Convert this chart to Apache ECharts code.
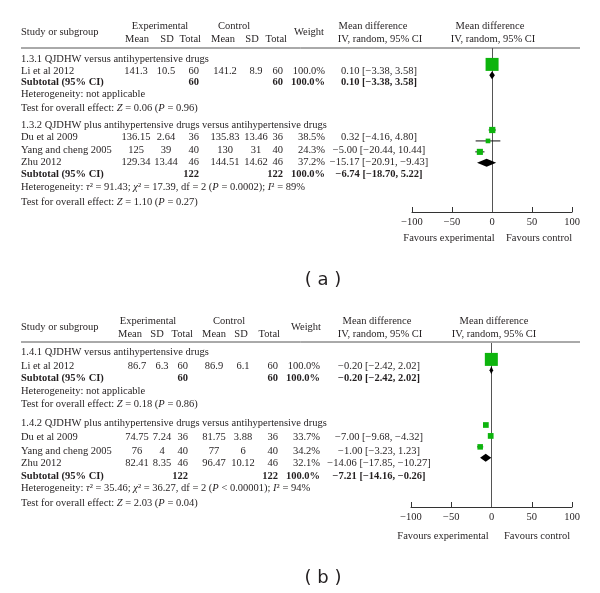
<!DOCTYPE html>
<html><head><meta charset="utf-8">
<script src="https://cdn.jsdelivr.net/npm/echarts@6/dist/echarts.min.js"></script>
<style>html,body{margin:0;padding:0;background:#fff}#c{width:600px;height:593px}</style>
</head><body><div id="c"></div>
<script>
// ---------- Panel (a) data ----------
const groupsA = ["1.3.1 QJDHW versus antihypertensive drugs", "1.3.2 QJDHW plus antihypertensive drugs versus antihypertensive drugs"];
const studiesA = ["Li et al 2012", "Du et al 2009", "Yang and cheng 2005", "Zhu 2012"];
const studyGroupA = [0, 1, 1, 1];
const expMeanA = ["141.3", "136.15", "125", "129.34"];
const expSdA = ["10.5", "2.64", "39", "13.44"];
const expTotalA = [60, 36, 40, 46];
const ctlMeanA = ["141.2", "135.83", "130", "144.51"];
const ctlSdA = ["8.9", "13.46", "31", "14.62"];
const ctlTotalA = [60, 36, 40, 46];
const weightA = [100.0, 38.5, 24.3, 37.2];
const mdA = [0.10, 0.32, -5.00, -15.17];
const loA = [-3.38, -4.16, -20.44, -20.91];
const hiA = [3.58, 4.80, 10.44, -9.43];
const subExpTotalA = [60, 122];
const subCtlTotalA = [60, 122];
const subMdA = [0.10, -6.74];
const subLoA = [-3.38, -18.70];
const subHiA = [3.58, 5.22];
const hetTau2A = [null, "91.43"];
const hetChi2A = [null, "17.39"];
const hetDfA = [null, "2"];
const hetPA = [null, "= 0.0002"];
const hetI2A = [null, "89"];
const zA = ["0.06", "1.10"];
const zPA = ["0.96", "0.27"];

// ---------- Panel (b) data ----------
const groupsB = ["1.4.1 QJDHW versus antihypertensive drugs", "1.4.2 QJDHW plus antihypertensive drugs versus antihypertensive drugs"];
const studiesB = ["Li et al 2012", "Du et al 2009", "Yang and cheng 2005", "Zhu 2012"];
const studyGroupB = [0, 1, 1, 1];
const expMeanB = ["86.7", "74.75", "76", "82.41"];
const expSdB = ["6.3", "7.24", "4", "8.35"];
const expTotalB = [60, 36, 40, 46];
const ctlMeanB = ["86.9", "81.75", "77", "96.47"];
const ctlSdB = ["6.1", "3.88", "6", "10.12"];
const ctlTotalB = [60, 36, 40, 46];
const weightB = [100.0, 33.7, 34.2, 32.1];
const mdB = [-0.20, -7.00, -1.00, -14.06];
const loB = [-2.42, -9.68, -3.23, -17.85];
const hiB = [2.02, -4.32, 1.23, -10.27];
const subExpTotalB = [60, 122];
const subCtlTotalB = [60, 122];
const subMdB = [-0.20, -7.21];
const subLoB = [-2.42, -14.16];
const subHiB = [2.02, -0.26];
const hetTau2B = [null, "35.46"];
const hetChi2B = [null, "36.27"];
const hetDfB = [null, "2"];
const hetPB = [null, "< 0.00001"];
const hetI2B = [null, "94"];
const zB = ["0.18", "2.03"];
const zPB = ["0.86", "0.04"];

// axis ticks
const xTicks = [-100, -50, 0, 50, 100];
const favourLabels = ["Favours experimental", "Favours control"];

// ---------- layout ----------
const FONT = "'Liberation Serif', 'Times New Roman', serif";
const FS = 10.5;
const INK = '#231f20';
const GREEN = '#0db40d';

const layoutA = {
  rows: [59, 71, 82, 94, 108, null, 125, 137, 150, 162, 174, 187, 202],
  h1: 26, h2: 32, h3: 39, rule: 48,
  col: {study: 21, eMean: 136, eSD: 166, eTot: 199, cMean: 225, cSD: 256, cTot: 283, wt: 325, md: 379},
  hcol: {exp: 160, ctl: 234, wt: 309, eMean: 137, eSD: 167, eTot: 201, cMean: 223, cSD: 252, cTot: 287, md1: 373, md2: 380, pl1: 490, pl2: 493},
  grid: {left: 412, width: 160, top: 48, height: 164},
  fav: 238, favX: [449, 539], title: {x: 323, y: 280, t: '( a )'}
};
const layoutB = {
  rows: [352, 366, 378, 391, 404, null, 423, 437, 451, 463, 476, 488, 503],
  h1: 321, h2: 327, h3: 334, rule: 342,
  col: {study: 21, eMean: 137, eSD: 162, eTot: 188, cMean: 214, cSD: 243, cTot: 278, wt: 320, md: 379},
  hcol: {exp: 148, ctl: 229, wt: 306, eMean: 130, eSD: 157, eTot: 193, cMean: 214, cSD: 241, cTot: 280, md1: 377, md2: 380, pl1: 494, pl2: 494},
  grid: {left: 411, width: 161, top: 343, height: 164},
  fav: 536, favX: [443, 537], title: {x: 323, y: 578, t: '( b )'}
};

const panelA = {groups: groupsA, studies: studiesA, sg: studyGroupA, eM: expMeanA, eS: expSdA, eT: expTotalA,
  cM: ctlMeanA, cS: ctlSdA, cT: ctlTotalA, w: weightA, md: mdA, lo: loA, hi: hiA,
  sET: subExpTotalA, sCT: subCtlTotalA, sMd: subMdA, sLo: subLoA, sHi: subHiA,
  tau: hetTau2A, chi: hetChi2A, df: hetDfA, hp: hetPA, i2: hetI2A, z: zA, zp: zPA};
const panelB = {groups: groupsB, studies: studiesB, sg: studyGroupB, eM: expMeanB, eS: expSdB, eT: expTotalB,
  cM: ctlMeanB, cS: ctlSdB, cT: ctlTotalB, w: weightB, md: mdB, lo: loB, hi: hiB,
  sET: subExpTotalB, sCT: subCtlTotalB, sMd: subMdB, sLo: subLoB, sHi: subHiB,
  tau: hetTau2B, chi: hetChi2B, df: hetDfB, hp: hetPB, i2: hetI2B, z: zB, zp: zPB};

const neg = s => String(s).replace(/-/g, '\u2212');
const f2 = v => neg(v.toFixed(2));
const ci = (m, l, h) => `${f2(m)} [${f2(l)}, ${f2(h)}]`;

const rich = {
  i: {fontFamily: FONT, fontSize: FS, fontStyle: 'italic', fill: INK}
};
function txt(x, y, text, align, bold, family, size) {
  return {type: 'text', x: x, y: y, silent: true, z: 10,
    style: {text: text, fontFamily: family || FONT, fontSize: size || FS, fontWeight: bold ? 'bold' : 'normal',
      fill: INK, textAlign: align || 'left', textVerticalAlign: 'middle', rich: rich}};
}

const graphics = [];
const grids = [], xAxes = [], yAxes = [], series = [];

function buildPanel(p, L, idx) {
  const C = L.col, H = L.hcol;
  // header
  graphics.push(txt(C.study, L.h2, 'Study or subgroup'));
  graphics.push(txt(H.exp, L.h1, 'Experimental', 'center'));
  graphics.push(txt(H.ctl, L.h1, 'Control', 'center'));
  graphics.push(txt(H.wt, L.h2, 'Weight', 'center'));
  graphics.push(txt(H.eMean, L.h3, 'Mean', 'center'));
  graphics.push(txt(H.eSD, L.h3, 'SD', 'center'));
  graphics.push(txt(H.eTot, L.h3, 'Total', 'right'));
  graphics.push(txt(H.cMean, L.h3, 'Mean', 'center'));
  graphics.push(txt(H.cSD, L.h3, 'SD', 'center'));
  graphics.push(txt(H.cTot, L.h3, 'Total', 'right'));
  graphics.push(txt(H.md1, L.h1, 'Mean difference', 'center'));
  graphics.push(txt(H.md2, L.h3, 'IV, random, 95% CI', 'center'));
  graphics.push(txt(H.pl1, L.h1, 'Mean difference', 'center'));
  graphics.push(txt(H.pl2, L.h3, 'IV, random, 95% CI', 'center'));
  graphics.push({type: 'line', silent: true, shape: {x1: 21, y1: L.rule, x2: 580, y2: L.rule},
    style: {stroke: '#555', lineWidth: 1}});

  // rows
  const studyData = [], diamondData = [];
  let r = 0;
  p.groups.forEach((g, gi) => {
    graphics.push(txt(C.study, L.rows[r], g));
    r++;
    p.studies.forEach((s, si) => {
      if (p.sg[si] !== gi) return;
      const y = L.rows[r];
      graphics.push(txt(C.study, y, s));
      graphics.push(txt(C.eMean, y, p.eM[si], 'center'));
      graphics.push(txt(C.eSD, y, p.eS[si], 'center'));
      graphics.push(txt(C.eTot, y, String(p.eT[si]), 'right'));
      graphics.push(txt(C.cMean, y, p.cM[si], 'center'));
      graphics.push(txt(C.cSD, y, p.cS[si], 'center'));
      graphics.push(txt(C.cTot, y, String(p.cT[si]), 'right'));
      graphics.push(txt(C.wt, y, p.w[si].toFixed(1) + '%', 'right'));
      graphics.push(txt(C.md, y, ci(p.md[si], p.lo[si], p.hi[si]), 'center'));
      studyData.push([p.md[si], r, p.lo[si], p.hi[si], p.w[si]]);
      r++;
    });
    const ys = L.rows[r];
    graphics.push(txt(C.study, ys, 'Subtotal (95% CI)', 'left', true));
    graphics.push(txt(C.eTot, ys, String(p.sET[gi]), 'right', true));
    graphics.push(txt(C.cTot, ys, String(p.sCT[gi]), 'right', true));
    graphics.push(txt(C.wt, ys, '100.0%', 'right', true));
    graphics.push(txt(C.md, ys, ci(p.sMd[gi], p.sLo[gi], p.sHi[gi]), 'center', true));
    diamondData.push([p.sMd[gi], r, p.sLo[gi], p.sHi[gi]]);
    r++;
    const het = p.tau[gi] === null ? 'Heterogeneity: not applicable'
      : `Heterogeneity: {i|\u03c4}\u00b2 = ${p.tau[gi]}; {i|\u03c7}\u00b2 = ${p.chi[gi]}, df = ${p.df[gi]} ({i|P} ${p.hp[gi]}); {i|I}\u00b2 = ${p.i2[gi]}%`;
    graphics.push(txt(C.study, L.rows[r], het));
    r++;
    graphics.push(txt(C.study, L.rows[r], `Test for overall effect: {i|Z} = ${p.z[gi]} ({i|P} = ${p.zp[gi]})`));
    r++;
    r++; // spacer row
  });
  const nRows = 15;

  // plot
  grids.push({left: L.grid.left, top: L.grid.top, width: L.grid.width, height: L.grid.height, containLabel: false});
  xAxes.push({type: 'value', gridIndex: idx, min: xTicks[0], max: xTicks[xTicks.length - 1], interval: xTicks[1] - xTicks[0],
    axisLine: {show: true, onZero: false, lineStyle: {color: '#333', width: 1}},
    axisTick: {show: true, inside: true, length: 5, lineStyle: {color: '#333', width: 1}},
    axisLabel: {fontFamily: FONT, fontSize: FS, color: INK, margin: 5, formatter: v => neg(v)},
    splitLine: {show: false}});
  yAxes.push({type: 'value', gridIndex: idx, min: -0.5, max: nRows - 0.5, inverse: true, show: false});

  series.push({
    type: 'custom', xAxisIndex: idx, yAxisIndex: idx, data: studyData, encode: {x: 0, y: 1}, clip: false,
    renderItem: (params, api) => {
      const y = api.coord([0, api.value(1)])[1];
      const xm = api.coord([api.value(0), 0])[0];
      const xl = api.coord([api.value(2), 0])[0];
      const xh = api.coord([api.value(3), 0])[0];
      const s = 2 + 11 * api.value(4) / 100;
      return {type: 'group', children: [
        {type: 'line', shape: {x1: xl, y1: y, x2: xh, y2: y}, style: {stroke: '#111', lineWidth: 1}},
        {type: 'rect', shape: {x: xm - s / 2, y: y - s / 2, width: s, height: s}, style: {fill: GREEN}}
      ]};
    },
    markLine: {silent: true, symbol: 'none', label: {show: false},
      lineStyle: {color: '#555', width: 1, type: 'solid'}, data: [{xAxis: 0}]},
    z: 5
  });
  series.push({
    type: 'custom', xAxisIndex: idx, yAxisIndex: idx, data: diamondData, encode: {x: 0, y: 1}, clip: false,
    renderItem: (params, api) => {
      const y = api.coord([0, api.value(1)])[1];
      const xm = api.coord([api.value(0), 0])[0];
      const xl = api.coord([api.value(2), 0])[0];
      const xh = api.coord([api.value(3), 0])[0];
      const h = 4;
      return {type: 'polygon', shape: {points: [[xl, y], [xm, y - h], [xh, y], [xm, y + h]]}, style: {fill: '#000'}};
    },
    z: 6
  });

  graphics.push(txt(L.favX[0], L.fav, favourLabels[0], 'center'));
  graphics.push(txt(L.favX[1], L.fav, favourLabels[1], 'center'));
  graphics.push(txt(L.title.x, L.title.y, L.title.t, 'center', false, "'DejaVu Sans', sans-serif", 18));
}

buildPanel(panelA, layoutA, 0);
buildPanel(panelB, layoutB, 1);

const chart = echarts.init(document.getElementById('c'), null, {renderer: 'canvas'});
chart.setOption({
  animation: false,
  backgroundColor: '#fff',
  grid: grids, xAxis: xAxes, yAxis: yAxes, series: series,
  graphic: graphics
});
</script></body></html>
